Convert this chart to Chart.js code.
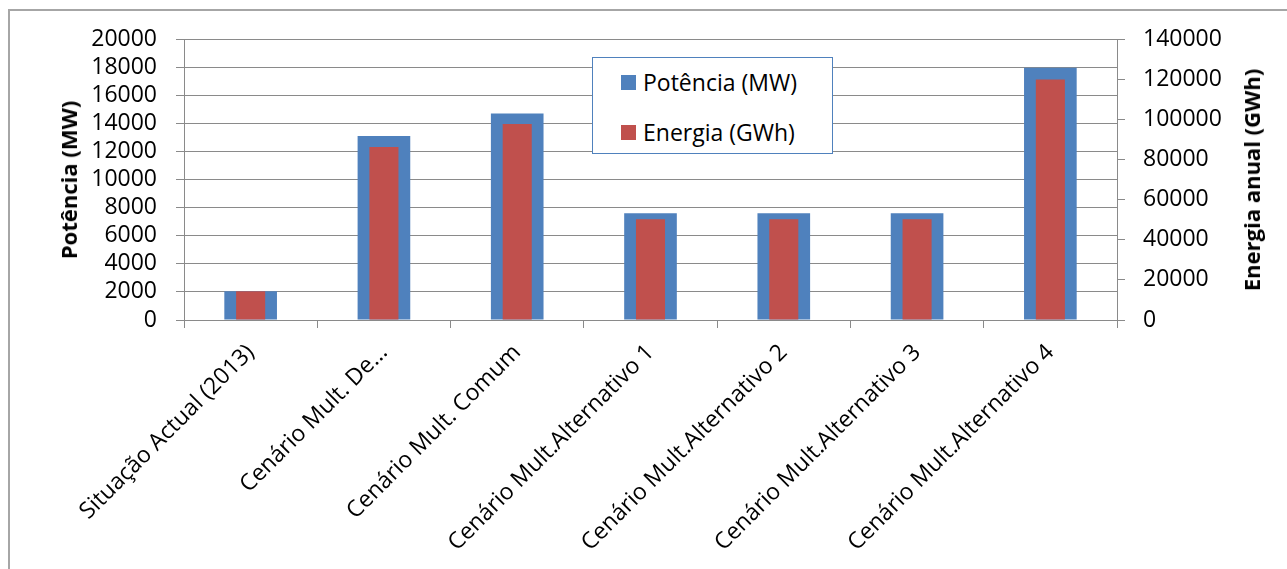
<!DOCTYPE html>
<html>
<head>
<meta charset="utf-8">
<script src="https://cdn.jsdelivr.net/npm/chart.js@4.4.1/dist/chart.umd.min.js"></script>
<style>
  html, body { margin: 0; padding: 0; background: #fff; }
  #wrap { position: relative; width: 1287px; height: 569px; overflow: hidden; font-family: "Open Sans", sans-serif; }
  #frame { position: absolute; left: 8px; top: 9px; width: 1400px; height: 700px; border-left: 2px solid #a6a6a6; border-top: 2px solid #a6a6a6; box-sizing: border-box; }
  canvas { position: absolute; left: 0; top: 0; }
  .axis-title { position: absolute; font-weight: bold; font-size: 22px; color: #000; white-space: nowrap; transform: translate(-50%, -50%) rotate(-90deg); }
  #legend { position: absolute; left: 592px; top: 57px; width: 241px; height: 97px; box-sizing: border-box; border: 1.5px solid #4f81bd; background: #fff; }
  .item { position: absolute; left: 28px; height: 30px; display: flex; align-items: center; font-size: 23px; color: #000; white-space: nowrap; }
  .sw { width: 15px; height: 15px; margin-right: 7px; flex: none; }
</style>
</head>
<body>
<div id="wrap">
  <div id="frame"></div>
  <canvas id="c" width="1287" height="569"></canvas>
  <div class="axis-title" id="tl" style="left:68px; top:180px;"></div>
  <div class="axis-title" id="tr" style="left:1251px; top:180px;"></div>
  <div id="legend"></div>
</div>
<script>
// Categories and series
const categories = [
  'Situação Actual (2013)',
  'Cenário Mult. De...',
  'Cenário Mult. Comum',
  'Cenário Mult.Alternativo 1',
  'Cenário Mult.Alternativo 2',
  'Cenário Mult.Alternativo 3',
  'Cenário Mult.Alternativo 4'
];
const potenciaMW = [2050, 13100, 14700, 7600, 7600, 7600, 17950];
const energiaGWh = [14300, 86200, 97700, 50200, 50200, 50200, 119800];

const seriesNames = ['Potência (MW)', 'Energia (GWh)'];
const axisTitles = ['Potência (MW)', 'Energia anual (GWh)'];
const seriesColors = ['#4f81bd', '#c0504d'];

const leftTicks = { min: 0, max: 20000, step: 2000 };
const rightTicks = { min: 0, max: 140000, step: 20000 };

const gridColor = '#8a8a8a';
const tickFont = { family: 'Open Sans', size: 23 };
const plainNumber = (v) => String(v);

document.getElementById('tl').textContent = axisTitles[0];
document.getElementById('tr').textContent = axisTitles[1];

// Legend box inside the plot
const legend = document.getElementById('legend');
seriesNames.forEach((name, i) => {
  const it = document.createElement('div');
  it.className = 'item';
  it.style.top = (i === 0 ? 9 : 59) + 'px';
  const sw = document.createElement('span');
  sw.className = 'sw';
  sw.style.background = seriesColors[i];
  const tx = document.createElement('span');
  tx.textContent = name;
  it.appendChild(sw);
  it.appendChild(tx);
  legend.appendChild(it);
});

new Chart(document.getElementById('c'), {
  type: 'bar',
  data: {
    labels: categories,
    datasets: [
      {
        label: seriesNames[0],
        data: potenciaMW,
        backgroundColor: seriesColors[0],
        yAxisID: 'y',
        grouped: false,
        barPercentage: 0.395,
        categoryPercentage: 1,
        order: 1
      },
      {
        label: seriesNames[1],
        data: energiaGWh,
        backgroundColor: seriesColors[1],
        yAxisID: 'y1',
        grouped: false,
        barPercentage: 0.218,
        categoryPercentage: 1,
        order: 0
      }
    ]
  },
  options: {
    responsive: false,
    animation: false,
    layout: { padding: { top: 39, left: 0, right: 0, bottom: 0 } },
    plugins: { legend: { display: false }, tooltip: { enabled: false } },
    scales: {
      x: {
        offset: true,
        grid: { offset: true, drawOnChartArea: false, color: gridColor, tickLength: 8 },
        border: { color: gridColor },
        ticks: { color: '#000', font: tickFont, maxRotation: 45, minRotation: 45, autoSkip: false, padding: 11 },
        afterFit(s) { s.height = 249; }
      },
      y: {
        position: 'left',
        min: leftTicks.min, max: leftTicks.max,
        grid: { color: gridColor, tickLength: 8 },
        border: { color: gridColor },
        ticks: { stepSize: leftTicks.step, autoSkip: false, color: '#000', font: tickFont, padding: 19, callback: plainNumber },
        afterFit(s) { s.width = 184; }
      },
      y1: {
        position: 'right',
        min: rightTicks.min, max: rightTicks.max,
        grid: { drawOnChartArea: false, color: gridColor, tickLength: 8 },
        border: { color: gridColor },
        ticks: { stepSize: rightTicks.step, autoSkip: false, color: '#000', font: tickFont, padding: 18, callback: plainNumber },
        afterFit(s) { s.width = 170; }
      }
    }
  }
});
</script>
</body>
</html>
